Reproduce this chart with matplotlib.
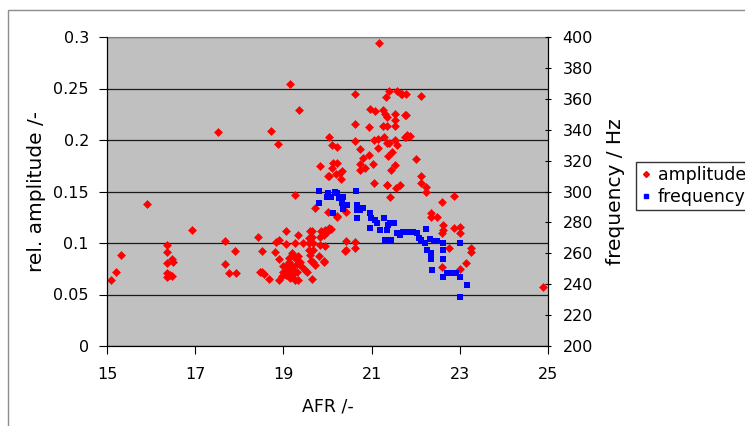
import matplotlib
matplotlib.use("Agg")
import matplotlib.pyplot as plt
from matplotlib.lines import Line2D
from matplotlib.patches import Rectangle

plt.rcParams["font.family"] = ["DejaVu Sans"]

# amplitude (red diamonds): AFR vs rel. amplitude
amp_afr = [
    15.08, 15.20, 15.31, 15.91, 16.35, 16.37, 16.42, 16.47, 16.36, 16.47, 16.50, 16.36,
    16.36, 16.92, 17.51, 17.68, 17.68, 17.76, 17.90, 17.92, 18.42, 18.47, 18.51, 18.55,
    18.52, 18.67, 18.73, 18.81, 18.83, 18.89, 18.89, 18.89, 18.88, 18.96, 19.00, 19.05,
    19.07, 19.07, 19.10, 19.13, 19.14, 19.15, 19.19, 19.20, 19.26, 19.26, 19.26, 19.27,
    19.30, 19.34, 19.34, 19.34, 19.35, 19.38, 19.42, 19.45, 19.50, 19.53, 19.57, 19.57,
    19.58, 19.60, 19.62, 19.64, 19.64, 19.68, 19.68, 19.72, 19.72, 19.60, 19.65, 19.68,
    19.83, 19.83, 19.83, 19.85, 19.90, 19.93, 19.93, 19.94, 19.92, 19.80, 19.95, 19.98,
    20.03, 20.03, 20.03, 20.02, 20.02, 20.08, 20.10, 20.10, 20.12, 20.19, 20.21, 20.22,
    20.21, 20.22, 20.28, 20.31, 20.32, 20.42, 20.42, 20.42, 20.40, 20.62, 20.62, 20.62,
    20.63, 20.63, 20.74, 20.74, 20.74, 20.80, 20.86, 20.95, 20.95, 20.96, 21.04, 21.05,
    21.05, 21.07, 21.15, 21.15, 21.16, 21.25, 21.25, 21.27, 21.30, 21.33, 21.34, 21.34,
    21.34, 21.34, 21.36, 21.38, 21.40, 21.40, 21.42, 21.45, 21.46, 21.52, 21.54, 21.54,
    21.54, 21.54, 21.55, 21.57, 21.57, 21.64, 21.66, 21.70, 21.76, 21.76, 21.77, 21.80,
    21.87, 22.00, 22.11, 22.11, 22.11, 22.23, 22.23, 22.35, 22.35, 22.48, 22.60, 22.63,
    22.63, 22.60, 22.75, 22.87, 22.87, 23.00, 23.00, 23.00, 23.14, 23.26, 23.26, 22.59,
    24.88, 19.00, 19.10, 19.20, 19.15, 19.05, 19.25, 19.12, 19.22, 19.30, 21.77, 21.78,
]
amp_val = [
    0.064, 0.0715, 0.088, 0.1375, 0.067, 0.071, 0.069, 0.068, 0.081, 0.084, 0.082, 0.0916,
    0.098, 0.113, 0.208, 0.102, 0.080, 0.0705, 0.092, 0.0705, 0.106, 0.072, 0.072, 0.070,
    0.092, 0.065, 0.209, 0.0915, 0.101, 0.103, 0.084, 0.064, 0.196, 0.068, 0.078, 0.074,
    0.112, 0.099, 0.080, 0.085, 0.254, 0.070, 0.090, 0.076, 0.085, 0.100, 0.064, 0.147,
    0.072, 0.108, 0.087, 0.064, 0.229, 0.082, 0.077, 0.100, 0.074, 0.072, 0.105, 0.093,
    0.100, 0.088, 0.083, 0.112, 0.065, 0.082, 0.100, 0.079, 0.134, 0.112, 0.106, 0.093,
    0.175, 0.098, 0.106, 0.112, 0.110, 0.108, 0.0825, 0.097, 0.082, 0.087, 0.113, 0.111,
    0.115, 0.203, 0.165, 0.130, 0.165, 0.114, 0.195, 0.173, 0.178, 0.167, 0.178, 0.193,
    0.126, 0.125, 0.168, 0.162, 0.170, 0.130, 0.102, 0.093, 0.092, 0.245, 0.101, 0.095,
    0.216, 0.199, 0.191, 0.177, 0.171, 0.183, 0.173, 0.185, 0.213, 0.230, 0.177, 0.200,
    0.158, 0.228, 0.201, 0.192, 0.294, 0.229, 0.214, 0.203, 0.225, 0.242, 0.222, 0.214,
    0.197, 0.156, 0.156, 0.184, 0.248, 0.197, 0.145, 0.171, 0.188, 0.219, 0.225, 0.214,
    0.200, 0.176, 0.153, 0.248, 0.195, 0.156, 0.245, 0.245, 0.224, 0.203, 0.203, 0.205,
    0.204, 0.182, 0.243, 0.165, 0.158, 0.154, 0.150, 0.129, 0.125, 0.125, 0.140, 0.117,
    0.113, 0.110, 0.095, 0.146, 0.115, 0.116, 0.110, 0.075, 0.081, 0.095, 0.091, 0.077,
    0.0576, 0.072, 0.075, 0.078, 0.066, 0.069, 0.073, 0.082, 0.070, 0.080, 0.245, 0.224,
]

# frequency (blue squares): AFR vs Hz
freq_afr = [
    19.81, 19.81, 20.02, 19.98, 20.09, 20.17, 20.22, 20.27, 20.36, 20.32, 20.36, 20.44,
    20.13, 20.65, 20.66, 20.66, 20.74, 20.81, 20.66, 20.96, 20.98, 21.08, 20.96, 21.12,
    21.27, 21.19, 21.34, 21.38, 21.30, 21.42, 21.50, 21.57, 21.64, 21.72, 21.83, 21.93,
    22.02, 22.08, 22.13, 22.23, 22.22, 22.32, 22.41, 22.49, 22.25, 22.35, 22.35, 22.61,
    22.61, 22.61, 22.37, 22.61, 22.70, 22.81, 22.91, 23.00, 23.00, 23.16, 23.00, 21.45,
]
freq_hz = [
    300.6, 292.8, 298.8, 296.7, 296.7, 300.0, 299.3, 295.6, 296.7, 292.4, 288.5, 291.3,
    285.9, 300.6, 291.3, 288.1, 288.1, 289.1, 282.7, 285.9, 282.7, 281.6, 276.2, 279.4,
    282.7, 275.1, 275.1, 278.4, 268.6, 279.4, 279.4, 273.0, 271.8, 274.0, 274.0, 274.0,
    273.0, 270.0, 268.6, 276.0, 266.4, 269.0, 268.2, 268.2, 262.1, 260.0, 256.5, 266.4,
    262.1, 256.5, 249.2, 244.8, 247.0, 247.4, 247.4, 244.8, 266.4, 239.5, 232.0, 268.6,
]

amp_ticks = [0, 0.05, 0.1, 0.15, 0.2, 0.25, 0.3]
amp_tick_labels = ["0", "0.05", "0.1", "0.15", "0.2", "0.25", "0.3"]
freq_ticks = list(range(200, 401, 20))
afr_ticks = [15, 17, 19, 21, 23, 25]

fig = plt.figure(figsize=(7.45, 4.26), dpi=100)
ax = fig.add_axes([107 / 745, 80 / 426, 441 / 745, 309 / 426])

# chart-area border (runs off the right and bottom edges like the source)
fig.patches.append(Rectangle((8 / 745, -0.05), 1.1, (416 / 426) + 0.05,
                             transform=fig.transFigure, fill=False,
                             edgecolor="#8c8c8c", linewidth=1.0))

ax.set_facecolor("#c0c0c0")
ax.set_xlim(15, 25)
ax.set_ylim(0, 0.3)
ax.set_yticks(amp_ticks)
ax.set_yticklabels(amp_tick_labels)
ax.set_xticks(afr_ticks)
ax.grid(axis="y", color="#1a1a1a", linewidth=0.9)
ax.set_axisbelow(True)
ax.spines["top"].set_color("#808080")
for s in ("left", "bottom", "right"):
    ax.spines[s].set_color("#000000")
ax.tick_params(axis="both", labelsize=11.5, length=6, width=0.8, direction="out")
ax.tick_params(axis="x", pad=9)
ax.tick_params(axis="y", pad=7)
ax.set_xlabel("AFR /-", fontsize=12.5, labelpad=11)
ax.set_ylabel("rel. amplitude /-", fontsize=14.5, labelpad=5)

ax.plot(amp_afr, amp_val, linestyle="none", marker="D", markersize=3.6,
        color="#ff0000", markeredgewidth=0.4, zorder=3)

ax2 = ax.twinx()
ax2.set_ylim(200, 400)
ax2.set_yticks(freq_ticks)
ax2.tick_params(axis="y", labelsize=11.5, length=5, width=0.8, direction="inout", pad=8)
ax2.set_ylabel("frequency / Hz", fontsize=14.5, labelpad=9)
ax2.spines["top"].set_visible(False)
ax2.plot(freq_afr, freq_hz, linestyle="none", marker="s", markersize=5,
         color="#0000ff", markeredgewidth=0, zorder=3)

handles = [
    Line2D([], [], linestyle="none", marker="D", markersize=3, color="#ff0000"),
    Line2D([], [], linestyle="none", marker="s", markersize=3.5, color="#0000ff"),
]
fig.legend(handles, ["amplitude", "frequency"], loc="upper left",
           bbox_to_anchor=(636 / 745, 264 / 426), frameon=True, fancybox=False,
           edgecolor="#000000", fontsize=12.5, handlelength=0.6, handletextpad=0.4,
           borderpad=0.25, labelspacing=0.2, borderaxespad=0)

fig.savefig("out.png", dpi=100)
